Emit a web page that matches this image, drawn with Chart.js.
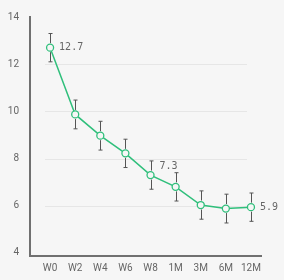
<!DOCTYPE html>
<html lang="en">
<head>
    <meta charset="UTF-8">
    <title>Chart</title>
    <style>
        body {
            margin: 0;
            padding: 0;
            background: #f6f6f6;
        }
        #wrap {
            width: 284px;
            height: 280px;
        }
    </style>
    <script src="https://cdn.jsdelivr.net/npm/chart.js@4"></script>
</head>
<body>
<div id="wrap">
    <canvas id="chart"></canvas>
</div>
<script>
    const categories = ['W0', 'W2', 'W4', 'W6', 'W8', '1M', '3M', '6M', '12M'];
    const means = [12.7, 9.87, 8.97, 8.22, 7.3, 6.8, 6.03, 5.88, 5.94];
    const errors = [0.6, 0.61, 0.61, 0.6, 0.6, 0.6, 0.6, 0.61, 0.6];
    const labelledPoints = [0, 4, 8];
    const yTicks = [4, 6, 8, 10, 12, 14];

    // grid lines only for the inner ticks, and inset from the axes
    const gridPlugin = {
        id: 'grid',
        beforeDatasetsDraw(chart) {
            const ctx = chart.ctx, y = chart.scales.y, a = chart.chartArea;
            ctx.save();
            ctx.strokeStyle = '#e6e6e6';
            ctx.lineWidth = 1;
            [6, 8, 10, 12].forEach(v => {
                const py = Math.round(y.getPixelForValue(v)) + 0.5;
                ctx.beginPath();
                ctx.moveTo(a.left + 15, py);
                ctx.lineTo(a.right - 14, py);
                ctx.stroke();
            });
            ctx.restore();
        }
    };

    const errorBarPlugin = {
        id: 'errorBars',
        afterDatasetsDraw(chart) {
            const ctx = chart.ctx, x = chart.scales.x, y = chart.scales.y;
            ctx.save();
            ctx.strokeStyle = '#555';
            ctx.lineWidth = 1;
            means.forEach((m, i) => {
                const px = Math.round(x.getPixelForValue(i)) + 0.5;
                const top = y.getPixelForValue(m + errors[i]);
                const bot = y.getPixelForValue(m - errors[i]);
                const c = y.getPixelForValue(m);
                ctx.beginPath();
                ctx.moveTo(px, top); ctx.lineTo(px, c - 4.5);
                ctx.moveTo(px, c + 4.5); ctx.lineTo(px, bot);
                ctx.moveTo(px - 2, top); ctx.lineTo(px + 2, top);
                ctx.moveTo(px - 2, bot); ctx.lineTo(px + 2, bot);
                ctx.stroke();
            });
            // value labels
            ctx.fillStyle = '#666';
            ctx.font = '10px "DejaVu Sans Mono", monospace';
            ctx.textBaseline = 'middle';
            labelledPoints.forEach(i => {
                const px = x.getPixelForValue(i);
                let py = y.getPixelForValue(means[i]);
                if (i === 4) py -= 9;
                ctx.fillText(means[i].toFixed(1), px + 9, py);
            });
            ctx.restore();
        }
    };

    new Chart(document.getElementById('chart'), {
        type: 'line',
        data: {
            datasets: [{
                data: means.map((v, i) => ({ x: i, y: v })),
                borderColor: '#2fbf7b',
                borderWidth: 1.5,
                pointRadius: 3.5,
                pointBorderWidth: 1.3,
                pointBorderColor: '#2fbf7b',
                pointBackgroundColor: '#f6f6f6',
                tension: 0
            }]
        },
        options: {
            responsive: true,
            maintainAspectRatio: false,
            animation: false,
            layout: { padding: { left: 0, right: 23, top: 13, bottom: 0 } },
            plugins: { legend: { display: false }, tooltip: { enabled: false } },
            scales: {
                x: {
                    type: 'linear',
                    min: -0.8,
                    max: 8.4,
                    afterBuildTicks: s => { s.ticks = categories.map((c, i) => ({ value: i })); },
                    afterFit: s => { s.height = 24; },
                    ticks: {
                        callback: v => categories[v],
                        color: '#666',
                        font: { family: 'Roboto', size: 10 },
                        padding: 6,
                        maxRotation: 0,
                        autoSkip: false
                    },
                    grid: { display: false, drawTicks: false },
                    border: { color: '#707070', width: 2 }
                },
                y: {
                    min: 3.87,
                    max: 14,
                    afterBuildTicks: s => { s.ticks = yTicks.map(v => ({ value: v })); },
                    afterFit: s => { s.width = 30; },
                    ticks: {
                        color: '#666',
                        font: { family: 'Roboto', size: 10 },
                        crossAlign: 'near',
                        padding: 11
                    },
                    grid: { display: false, drawTicks: false },
                    border: { color: '#707070', width: 2 }
                }
            }
        },
        plugins: [gridPlugin, errorBarPlugin]
    });
</script>
</body>
</html>
